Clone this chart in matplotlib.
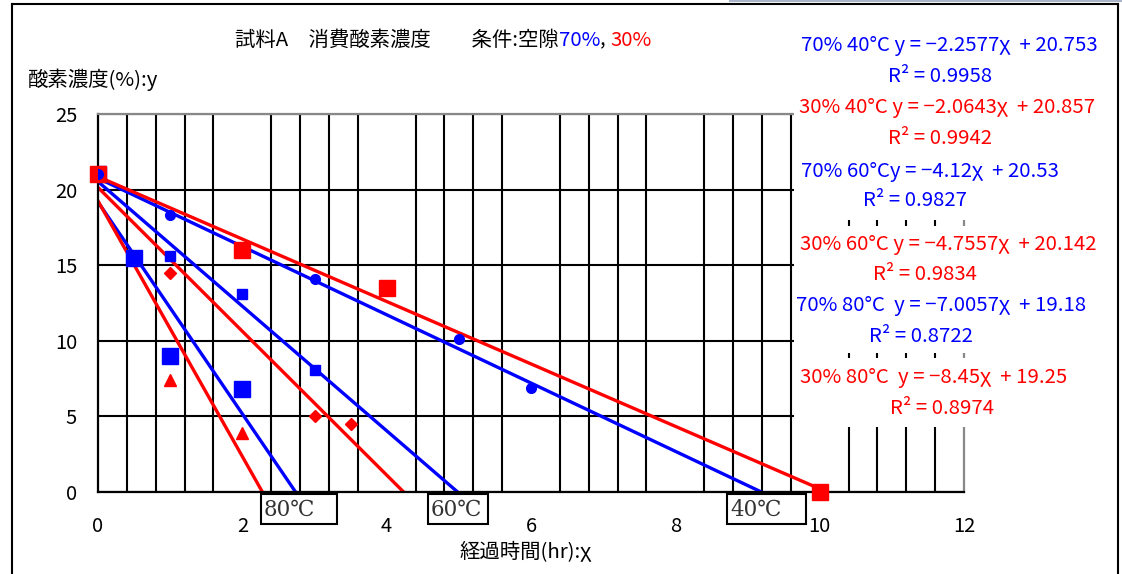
import numpy as np
import matplotlib
matplotlib.use('Agg')
import matplotlib.pyplot as plt
from matplotlib.patches import Rectangle
from matplotlib.lines import Line2D

plt.rcParams['font.family'] = ['Noto Sans CJK JP', 'DejaVu Sans']

W, H = 1122, 574

x_70_40 = [0, 1, 3, 5, 6]
y_70_40 = [21.0, 18.3, 14.1, 10.1, 6.9]
x_30_40 = [0, 2, 4, 10]
y_30_40 = [21.0, 16.0, 13.5, 0.0]
x_70_60 = [0, 1, 2, 3]
y_70_60 = [21.0, 15.6, 13.1, 8.1]
x_30_60 = [0, 1, 3, 3.5]
y_30_60 = [21.0, 14.5, 5.0, 4.5]
x_70_80 = [0, 0.5, 1, 2]
y_70_80 = [21.0, 15.5, 9.0, 6.8]
x_30_80 = [0, 1, 2]
y_30_80 = [21.0, 7.4, 3.9]

# trendlines (from the chart labels)
slopes = [-2.2577, -2.0643, -4.12, -4.7557, -7.0057, -8.45]
intercepts = [20.753, 20.857, 20.53, 20.142, 19.18, 19.25]
r2 = [0.9958, 0.9942, 0.9827, 0.9834, 0.8722, 0.8974]
trend_colors = ['blue', 'red', 'blue', 'red', 'blue', 'red']
eq_labels = ['70% 40°C y = −2.2577χ  + 20.753',
             '30% 40°C y = −2.0643χ  + 20.857',
             '70% 60°Cy = −4.12χ  + 20.53',
             '30% 60°C y = −4.7557χ  + 20.142',
             '70% 80°C  y = −7.0057χ  + 19.18',
             '30% 80°C  y = −8.45χ  + 19.25']
temp_labels = ['80℃', '60℃', '40℃']

FS = 14.7


def fx(p):
    return p / W


def fy(p):
    return 1 - p / H


fig = plt.figure(figsize=(W / 100, H / 100), dpi=100)
ax = fig.add_axes([fx(98), fy(492), (964 - 98) / W, (492 - 114) / H])
ax.set_xlim(0, 12)
ax.set_ylim(0, 25)
ax.set_xticks(range(0, 13, 2))
ax.set_yticks(range(0, 26, 5))
ax.set_xticks(np.arange(0, 12.01, 0.4), minor=True)
ax.set_axisbelow(True)
ax.xaxis.grid(True, which='minor', color='black', lw=1.5)
ax.yaxis.grid(True, which='major', color='black', lw=1.5)
ax.tick_params(which='both', length=0, labelsize=14.5)
ax.tick_params(axis='y', pad=15)
ax.tick_params(axis='x', pad=17)
for s in ['left', 'bottom']:
    ax.spines[s].set_color('black')
    ax.spines[s].set_linewidth(1.6)
for s in ['top', 'right']:
    ax.spines[s].set_color('#888888')
    ax.spines[s].set_linewidth(1.6)

# trendlines
for m, b, c in zip(slopes, intercepts, trend_colors):
    xe = -b / m
    ax.plot([0, xe], [b, 0], color=c, lw=2.4, zorder=2)

# markers
ax.plot(x_70_80, y_70_80, ls='none', marker='s', ms=11, color='blue', zorder=3)
ax.plot(x_30_80, y_30_80, ls='none', marker='^', ms=8, color='red', zorder=3)
ax.plot(x_70_60, y_70_60, ls='none', marker='s', ms=7, color='blue', zorder=3)
ax.plot(x_30_60, y_30_60, ls='none', marker='D', ms=6, color='red', zorder=3)
ax.plot(x_30_40, y_30_40, ls='none', marker='s', ms=11, color='red', zorder=3, clip_on=False)
ax.plot(x_70_40, y_70_40, ls='none', marker='o', ms=7, color='blue', zorder=3)

# white areas behind the trendline labels
for top, bot in [(108, 220), (226, 353), (358, 427)]:
    fig.add_artist(Rectangle((fx(794), fy(bot)), (1116 - 794) / W, (bot - top) / H,
                             transform=fig.transFigure, fc='white', ec='none', zorder=5))

eq_y = [45, 108, 171, 244, 305, 378]
eq_x = [801, 799, 801, 800, 796, 800]
r2_y = [76, 139, 201, 275, 336, 409]
r2_x = [940, 940, 915, 925, 921, 942]
for i in range(6):
    fig.text(fx(eq_x[i]), fy(eq_y[i]), eq_labels[i], color=trend_colors[i],
             fontsize=FS, ha='left', va='center', zorder=6)
    fig.text(fx(r2_x[i]), fy(r2_y[i]), 'R² = %.4f' % r2[i], color=trend_colors[i],
             fontsize=FS, ha='center', va='center', zorder=6)

# temperature boxes
for lab, x0, x1 in zip(temp_labels, [261, 428, 727], [337, 488, 806]):
    fig.add_artist(Rectangle((fx(x0), fy(524)), (x1 - x0) / W, 30 / H,
                             transform=fig.transFigure, fc='white', ec='black', lw=1.5, zorder=5))
    fig.text(fx(x0 + 3), fy(510), lab, family=['DejaVu Serif', 'Noto Sans CJK JP'],
             fontsize=15.5, color='#333333', ha='left', va='center', zorder=6)

# title in pieces
renderer = fig.canvas.get_renderer()
pieces = [('試料A　消費酸素濃度　　条件:空隙', 'black'), ('70%', 'blue'), (', ', 'black'), ('30%', 'red')]
xp = fx(235)
for s, c in pieces:
    t = fig.text(xp, fy(40), s, color=c, fontsize=FS, ha='left', va='center')
    bb = t.get_window_extent(renderer)
    xp = bb.x1 / fig.bbox.width

fig.text(fx(28), fy(80), '酸素濃度(%):y', fontsize=FS, ha='left', va='center')
fig.text(fx(526), fy(553), '経過時間(hr):χ', fontsize=FS, ha='center', va='center')

# outer frame
for xs, ys in [([12, 12], [4, 574]), ([12, 1118], [4, 4]), ([1118, 1118], [4, 574])]:
    fig.add_artist(Line2D([fx(v) for v in xs], [fy(v) for v in ys], color='black', lw=1.5,
                          transform=fig.transFigure))
fig.add_artist(Line2D([fx(730), fx(1122)], [fy(0.5), fy(0.5)], color='#aab4c8', lw=1.5,
                      transform=fig.transFigure))

fig.savefig('out.png', dpi=100)
